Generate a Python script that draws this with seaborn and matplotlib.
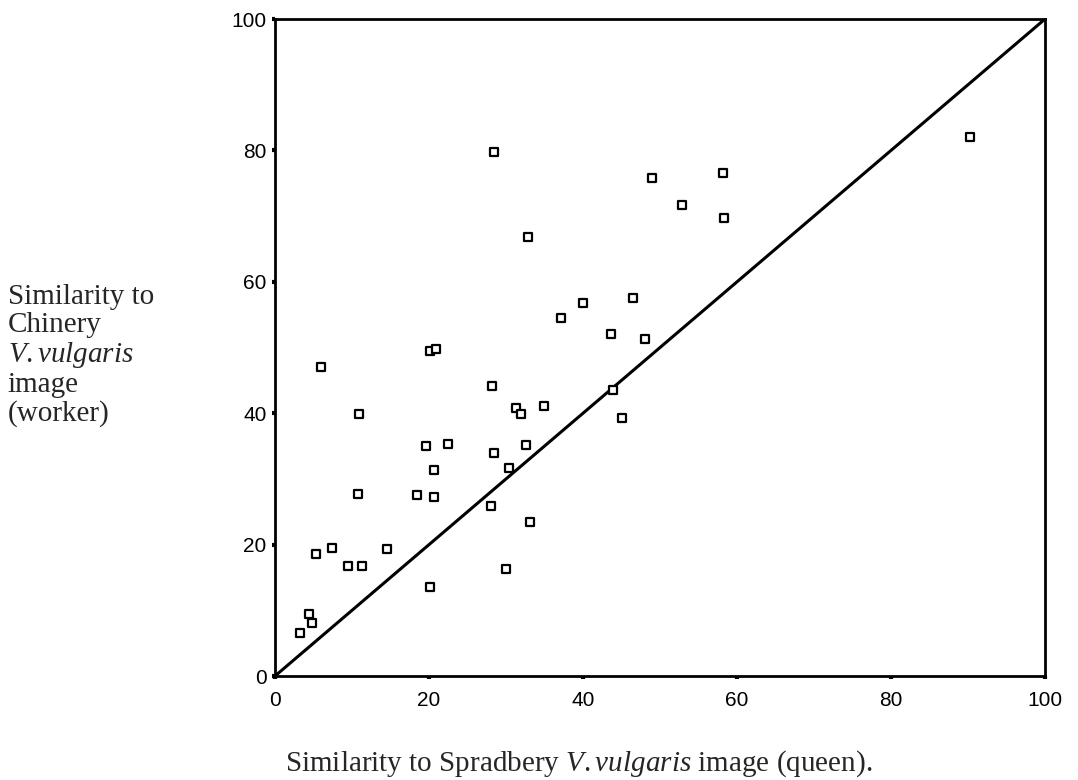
import matplotlib
matplotlib.use("Agg")
import pandas as pd
import matplotlib.pyplot as plt
import seaborn as sns

# Data (queen similarity vs worker similarity)
queen = [28.5, 32.8, 48.9, 52.9, 58.2, 58.3, 90.3,
         40.0, 46.5, 37.1, 43.6, 48.0,
         6.0, 20.1, 20.9, 28.2, 10.9, 31.3, 31.9, 34.9, 43.9, 45.0,
         19.6, 22.5, 28.5, 32.6, 20.6, 30.4,
         10.8, 18.4, 20.6, 28.0, 33.1,
         5.3, 7.4, 14.6, 9.5, 11.3, 30.0, 20.1,
         4.4, 4.8, 3.2]
worker = [79.7, 66.8, 75.8, 71.7, 76.5, 69.7, 82.1,
          56.8, 57.5, 54.5, 52.1, 51.3,
          47.1, 49.4, 49.8, 44.1, 39.9, 40.8, 39.9, 41.1, 43.6, 39.3,
          35.0, 35.3, 34.0, 35.2, 31.4, 31.6,
          27.7, 27.5, 27.2, 25.9, 23.5,
          18.5, 19.5, 19.3, 16.8, 16.8, 16.3, 13.5,
          9.5, 8.1, 6.5]
ticks = [0, 20, 40, 60, 80, 100]

df = pd.DataFrame({"queen": queen, "worker": worker})

sns.set_style("ticks")
plt.rcParams['font.family'] = ['Liberation Sans', 'DejaVu Sans']
plt.rcParams['mathtext.fontset'] = 'custom'
plt.rcParams['mathtext.rm'] = 'Liberation Serif'
plt.rcParams['mathtext.it'] = 'Liberation Serif:italic'

fig = plt.figure(figsize=(10.78, 7.8), dpi=100)
ax = fig.add_axes([0.2551, 0.1333, 0.7143, 0.8423])

# y = x reference line
ax.axline((0, 0), slope=1, color='black', linewidth=2.2, zorder=1)
sns.scatterplot(data=df, x="queen", y="worker", ax=ax, marker='s', s=38,
                facecolor='white', edgecolor='black', linewidth=1.6, zorder=3)

ax.set_xlim(0, 100)
ax.set_ylim(0, 100)
ax.set_xticks(ticks)
ax.set_yticks(ticks)
ax.tick_params(direction='out', length=2.5, width=3, labelsize=15,
               colors='black')
ax.tick_params(axis='x', pad=8)
ax.tick_params(axis='y', pad=3.5)
for s in ax.spines.values():
    s.set_visible(True)
    s.set_linewidth(2)
    s.set_color('black')

ax.set_xlabel("")
ax.set_ylabel("")

fig.text(0.537, 0.021, "Similarity to Spradbery $\\it{V.vulgaris}$ image (queen).",
         ha='center', va='center', fontsize=21, family='Liberation Serif')
fig.text(0.007, 0.544,
         "Similarity to\nChinery\n$\\it{V.vulgaris}$\nimage\n(worker)",
         ha='left', va='center', fontsize=21, family='Liberation Serif',
         linespacing=1.1)

plt.savefig("out.png", dpi=100)
plt.close()
